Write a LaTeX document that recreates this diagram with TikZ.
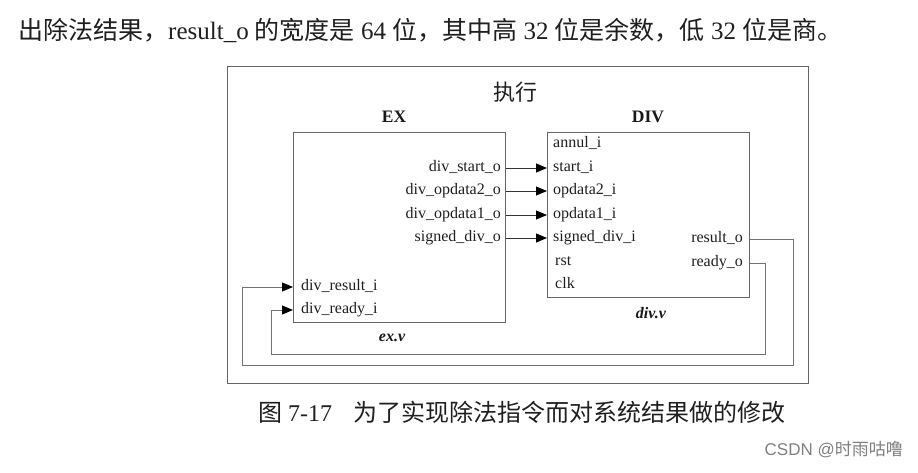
\documentclass[tikz,border=0pt]{standalone}
\usepackage{fontspec}
\setmainfont{Liberation Serif}
\newfontfamily\cjk{Noto Sans CJK SC}
\newfontfamily\wmfont{Liberation Sans}
\usetikzlibrary{arrows.meta}
\begin{document}
\begin{tikzpicture}[x=1pt,y=-1pt,
  box/.style={draw=black!60, line width=1pt, inner sep=0pt, anchor=north west},
  port/.style={font=\fontsize{16}{18}\selectfont, inner sep=0pt, text=black!88, text height=11pt, text depth=4pt},
  title/.style={font=\bfseries\fontsize{17.5}{20}\selectfont, inner sep=0pt, text=black!90},
  fname/.style={font=\bfseries\itshape\fontsize{16}{18}\selectfont, inner sep=0pt, text=black!90},
  tip/.style={-{Triangle[length=11pt,width=9pt,color=black]}},
  sig/.style={tip, line width=0.9pt, black!80},
  wire/.style={tip, line width=0.9pt, black!55},
]
\useasboundingbox (0,0) rectangle (918,472);
\fill[white] (0,0) rectangle (918,472);

% top line of text
\node[anchor=west, inner sep=0pt, text=black!88, font=\fontsize{25}{28}\selectfont] (topline) at (18,30)
  {{\cjk 出除法结果，}result\_o {\cjk 的宽度是} 64 {\cjk 位，其中高} 32 {\cjk 位是余数，低} 32 {\cjk 位是商。}};

% boxes
\node[box, minimum width=581pt, minimum height=317pt] (outer) at (227,66) {};
\node[box, minimum width=212pt, minimum height=190pt] (ex) at (293,132) {};
\node[box, minimum width=202pt, minimum height=165pt] (div) at (547,132) {};

% titles
\node[font=\cjk\fontsize{22}{24}\selectfont, inner sep=0pt, text=black!88] (exec) at (515,92) {执行};
\node[title] (extitle) at (394,117) {EX};
\node[title] (divtitle) at (648,117) {DIV};
\node[fname] (exv) at (392,338) {ex.v};
\node[fname] (divv) at (651,313) {div.v};

% DIV inputs
\node[port, anchor=west] (annul) at (553,144) {annul\_i};
\node[port, anchor=west] (start) at (553,168) {start\_i};
\node[port, anchor=west] (op2) at (553,191) {opdata2\_i};
\node[port, anchor=west] (op1) at (553,215) {opdata1\_i};
\node[port, anchor=west] (sgn) at (553,238) {signed\_div\_i};
\node[port, anchor=west] (rst) at (555,262) {rst};
\node[port, anchor=west] (clk) at (555,285) {clk};
% DIV outputs
\node[port, anchor=east] (res) at (743,239) {result\_o};
\node[port, anchor=east] (rdy) at (743,263) {ready\_o};

% EX outputs
\node[port, anchor=east] (dstart) at (501,168) {div\_start\_o};
\node[port, anchor=east] (dop2) at (501,191) {div\_opdata2\_o};
\node[port, anchor=east] (dop1) at (501,215) {div\_opdata1\_o};
\node[port, anchor=east] (dsgn) at (501,238) {signed\_div\_o};
% EX inputs
\node[port, anchor=west] (dres) at (301,287) {div\_result\_i};
\node[port, anchor=west] (drdy) at (301,310) {div\_ready\_i};

% EX -> DIV
\draw[sig] (ex.east |- dstart.east) -- (div.west |- start.west);
\draw[sig] (ex.east |- dop2.east) -- (div.west |- op2.west);
\draw[sig] (ex.east |- dop1.east) -- (div.west |- op1.west);
\draw[sig] (ex.east |- dsgn.east) -- (div.west |- sgn.west);

% feedback
\coordinate (resR) at (793,365);
\coordinate (resL) at (242,365);
\coordinate (rdyR) at (765,354);
\coordinate (rdyL) at (271,354);
\draw[wire] (div.east |- res.east) -| (resR) -- (resL) |- (ex.west |- dres.west);
\draw[wire] (div.east |- rdy.east) -| (rdyR) -- (rdyL) |- (ex.west |- drdy.west);

% caption
\node[anchor=west, inner sep=0pt, text=black!88, font=\fontsize{24}{26}\selectfont] (caption) at (258,412)
  {{\cjk 图} 7-17\hspace{0.9em}{\cjk 为了实现除法指令而对系统结果做的修改}};

% watermark
\node[anchor=east, inner sep=0pt, text=black!50, font=\wmfont\fontsize{17}{19}\selectfont] (wm) at (903,450)
  {CSDN @{\cjk 时雨咕噜}};
\end{tikzpicture}
\end{document}
